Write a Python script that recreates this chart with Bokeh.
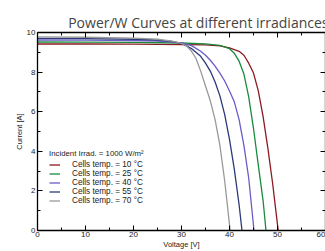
from bokeh.plotting import figure
from bokeh.models import LinearAxis, Range1d, Legend, LegendItem, FixedTicker, CustomLabelingPolicy
from bokeh.embed import file_html
from bokeh.resources import INLINE

title_text = "Power/W Curves at different irradiances"
legend_title = "Incident Irrad. = 1000 W/m²"

v_10 = [0, 10, 20, 30, 35, 38, 40, 42, 43, 44, 45, 46, 47, 48, 49, 50, 50.15]
i_10 = [9.42, 9.42, 9.41, 9.39, 9.37, 9.32, 9.22, 9.05, 8.85, 8.45, 7.95, 7.05, 5.75, 4.15, 2.35, 0.3, 0]

v_25 = [0, 10, 20, 30, 35, 38, 40, 41, 42, 43, 44, 45, 46, 47, 47.6]
i_25 = [9.52, 9.51, 9.50, 9.47, 9.43, 9.35, 9.18, 8.95, 8.55, 7.9, 6.75, 5.15, 3.3, 1.5, 0]

v_40 = [0, 10, 20, 25, 30, 32, 34, 35, 36, 37, 38, 39, 40, 41, 42, 43, 44, 45, 45.1]
i_40 = [9.62, 9.61, 9.59, 9.57, 9.48, 9.35, 9.05, 8.85, 8.6, 8.3, 7.95, 7.55, 7.05, 6.5, 5.6, 4.3, 2.65, 0.25, 0]

v_55 = [0, 10, 20, 25, 28, 30, 32, 34, 35, 36, 37, 38, 39, 40, 41, 42, 42.6]
i_55 = [9.70, 9.69, 9.66, 9.62, 9.55, 9.45, 9.2, 8.8, 8.45, 8.05, 7.5, 6.8, 5.85, 4.6, 3.1, 1.3, 0]

v_70 = [0, 10, 20, 25, 28, 30, 31, 32, 33, 34, 35, 36, 37, 38, 39, 40, 40.15]
i_70 = [9.78, 9.76, 9.72, 9.66, 9.56, 9.45, 9.33, 9.08, 8.7, 8.05, 7.3, 6.55, 5.6, 4.3, 2.5, 0.3, 0]

series_labels = ["Cells temp. = 10 °C", "Cells temp. = 25 °C", "Cells temp. = 40 °C",
                 "Cells temp. = 55 °C", "Cells temp. = 70 °C"]
series_colors = ["#8b1a22", "#1a8a3c", "#6b5bc8", "#2a3a78", "#999999"]
series_v = [v_10, v_25, v_40, v_55, v_70]
series_i = [i_10, i_25, i_40, i_55, i_70]

x_ticks = [0, 10, 20, 30, 40, 50, 60]
x_minor = [5, 15, 25, 35, 45, 55]
y_ticks = [0, 2, 4, 6, 8, 10]
y_minor = [1, 3, 5, 7, 9]

p = figure(width=325, height=251, output_backend="svg", toolbar_location=None,
           x_range=Range1d(0, 60), y_range=Range1d(0, 10),
           min_border_left=37, min_border_right=0, min_border_top=32, min_border_bottom=0,
           x_axis_location=None, y_axis_location=None)
p.grid.visible = False
p.outline_line_color = None
p.background_fill_color = "white"
p.border_fill_color = "white"

p.title.text = title_text
p.title.text_font = "Open Sans"
p.title.text_font_style = "normal"
p.title.text_font_size = "14px"
p.title.align = "right"
p.title.offset = -3
p.title.standoff = 2

def style_axis(ax):
    ax.major_tick_in = 5
    ax.major_tick_out = 0
    ax.minor_tick_in = 3
    ax.minor_tick_out = 0
    ax.axis_line_color = "black"
    ax.axis_line_width = 1.3
    ax.major_tick_line_color = "black"
    ax.minor_tick_line_color = "black"
    ax.major_label_text_font = "Liberation Sans"
    ax.major_label_text_font_size = "8px"
    ax.major_label_text_color = "#222222"
    ax.axis_label_text_font = "Liberation Sans"
    ax.axis_label_text_font_style = "normal"
    ax.axis_label_text_font_size = "7.5px"
    ax.axis_label_text_color = "#222222"

hide_all = CustomLabelingPolicy(code="for (const i of indices) { indices.unset(i) } return indices")

xb = LinearAxis(axis_label="Voltage [V]", ticker=FixedTicker(ticks=x_ticks, minor_ticks=x_minor))
style_axis(xb)
xb.major_label_standoff = 1
xb.axis_label_standoff = 0
p.add_layout(xb, "below")

yl = LinearAxis(axis_label="Current [A]", ticker=FixedTicker(ticks=y_ticks, minor_ticks=y_minor))
style_axis(yl)
yl.major_label_standoff = 2
yl.axis_label_standoff = 0
p.add_layout(yl, "left")

xt = LinearAxis(ticker=FixedTicker(ticks=x_ticks, minor_ticks=x_minor))
style_axis(xt)
xt.major_label_policy = hide_all
xt.major_label_overrides = {t: "" for t in x_ticks}
xt.major_label_standoff = 0
p.add_layout(xt, "above")

yr = LinearAxis(ticker=FixedTicker(ticks=y_ticks, minor_ticks=y_minor))
style_axis(yr)
yr.major_label_policy = hide_all
yr.major_label_overrides = {t: "" for t in y_ticks}
yr.major_label_standoff = 0
p.add_layout(yr, "right")

items = []
for v, i, c, lab in zip(series_v, series_i, series_colors, series_labels):
    r = p.line(v, i, line_color=c, line_width=1.3)
    items.append(LegendItem(label=lab, renderers=[r]))

leg = Legend(items=items, location=(12, 25), title=legend_title,
             title_text_font="Liberation Sans", title_text_font_size="7.8px",
             title_text_font_style="normal", title_standoff=2,
             label_text_font="Liberation Sans", label_text_font_size="8.2px",
             label_text_color="#222222", title_text_color="#222222",
             glyph_width=11, glyph_height=9, label_height=9, label_standoff=12,
             spacing=0, padding=0, margin=0,
             border_line_color=None, background_fill_alpha=0)
p.add_layout(leg, "center")

open("out.html", "w").write(file_html(p, INLINE))
